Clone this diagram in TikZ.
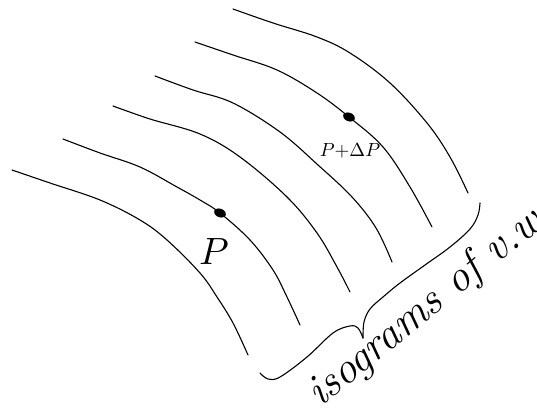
\documentclass[tikz,border=0pt]{standalone}
\usepackage{graphicx}
\usetikzlibrary{shapes.geometric}
\begin{document}
\begin{tikzpicture}[x=1pt,y=-1pt,
  iso/.style={line width=1.1pt,line cap=round,line join=round},
  dotmark/.style={ellipse,fill=black,draw=black,inner sep=0pt,minimum width=12pt,minimum height=8pt,rotate=-20},
  lbl/.style={inner sep=0pt}]
\useasboundingbox (0,0) rectangle (537,414);
% isograms
\draw[iso] plot[smooth,tension=0.6] coordinates {(12,170) (50,183) (100,200) (140,220) (167,240) (200,273) (217,297) (233,323) (248,355)};
\draw[iso] plot[smooth,tension=0.6] coordinates {(63,139) (100,153) (140,167) (177,187) (200,200) (220,213) (250,240) (273,270) (287,297) (300,325)};
\draw[iso] plot[smooth,tension=0.6] coordinates {(113,106) (150,119) (200,134) (240,157) (287,197) (317,233) (337,267) (350,292)};
\draw[iso] plot[smooth,tension=0.6] coordinates {(155,76) (193,90) (233,103) (280,132) (318,165) (352,197) (376,228) (392,262)};
\draw[iso] plot[smooth,tension=0.6] coordinates {(195,42) (233,55) (277,70) (317,93) (349,117) (383,147) (410,187) (432,227)};
\draw[iso] plot[smooth,tension=0.6] coordinates {(233,9) (273,23) (317,37) (350,53) (390,83) (427,123) (450,157) (468,193)};
% points
\node[dotmark] (p) at (220,213) {};
\node[dotmark] (pdp) at (349,117) {};
\node[lbl] (plabel) at (214,252) {\scalebox{3.8}{$P$}};
\node[lbl] (pdplabel) at (350,151) {\scalebox{1.9}{$P{+}\Delta P$}};
% brace
\coordinate (tip) at (363,338);
\draw[iso] plot[smooth,tension=0.6] coordinates {(260,373) (268,379) (280,377) (307,357) (333,333) (350,326) (358,328) (tip)};
\draw[iso] plot[smooth,tension=0.6] coordinates {(tip) (364,322) (370,309) (383,297) (400,283) (425,265) (450,247) (470,229) (478,215) (480,203)};
% caption
\node[lbl,anchor=base west,rotate=39] (caption) at (320,408) {\fontsize{44}{46}\selectfont\itshape isograms of v.w};
\end{tikzpicture}
\end{document}
